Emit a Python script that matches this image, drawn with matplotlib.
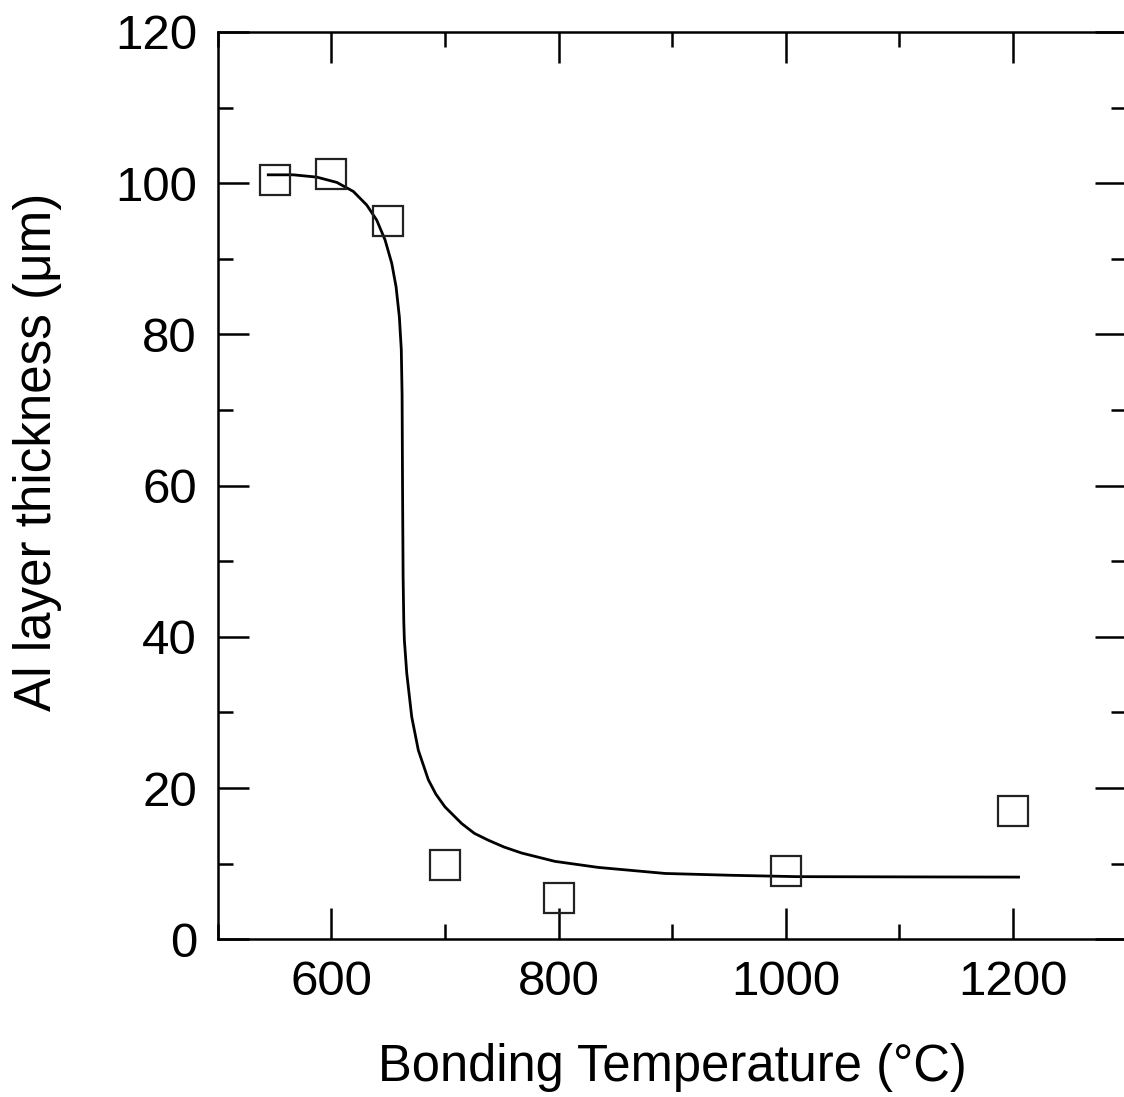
import matplotlib
matplotlib.use("Agg")
import matplotlib.pyplot as plt
from matplotlib.ticker import MultipleLocator

plt.rcParams['font.family'] = ['Liberation Sans', 'DejaVu Sans']

# measured data (squares)
temp = [550, 600, 650, 700, 800, 1000, 1200]
thickness = [100.4, 101.2, 95.0, 9.8, 5.5, 9.0, 17.0]

# fitted curve
curve_x = [544.5, 566.6, 587.1, 604.8, 619.4, 631.2, 640.0, 647.3, 653.2, 657.0,
           659.9, 661.6, 662.3, 662.7, 663.2, 663.8, 664.3, 666.4, 670.8, 676.6,
           685.4, 692.0, 700.1, 714.8, 726.0, 738.2, 752.0, 767.6, 796.9, 835,
           894, 952, 1010, 1100, 1205]
curve_y = [101.1, 101.1, 100.8, 100.1, 98.9, 97.1, 95.1, 92.5, 89.4, 86.3,
           82.3, 78.0, 72.0, 60.0, 48.0, 42.0, 39.6, 35.2, 29.4, 25.0,
           21.1, 19.2, 17.5, 15.3, 14.0, 13.1, 12.2, 11.4, 10.3, 9.5,
           8.7, 8.46, 8.28, 8.25, 8.22]

xticks = [600, 800, 1000, 1200]
yticks = [0, 20, 40, 60, 80, 100, 120]

fig = plt.figure(figsize=(11.24, 10.97), dpi=100)
ax = fig.add_axes([0.1937, 0.1438, 0.8085, 0.8271])

ax.plot(curve_x, curve_y, color='black', lw=2.0, zorder=2,
        solid_joinstyle='round')
ax.plot(temp, thickness, linestyle='none', marker='s', markersize=21.5,
        markerfacecolor='none', markeredgecolor='#222222', markeredgewidth=1.6,
        zorder=3)

ax.set_xlim(500, 1300)
ax.set_ylim(0, 120)
ax.set_xticks(xticks)
ax.set_yticks(yticks)
ax.xaxis.set_minor_locator(MultipleLocator(100))
ax.yaxis.set_minor_locator(MultipleLocator(10))

ax.tick_params(which='both', direction='in', top=True, right=True,
               width=1.8, labelsize=35.5)
ax.tick_params(which='major', length=22)
ax.tick_params(which='minor', length=11)
ax.tick_params(axis='x', pad=15)
ax.tick_params(axis='y', pad=15)

for s in ax.spines.values():
    s.set_linewidth(1.8)

ax.set_xlabel('Bonding Temperature (°C)', fontsize=36.5, labelpad=27)
ax.set_ylabel('Al layer thickness (μm)', fontsize=36.8)
ax.yaxis.set_label_coords(-0.1713, 0.537)

fig.savefig('out.png', dpi=100)
